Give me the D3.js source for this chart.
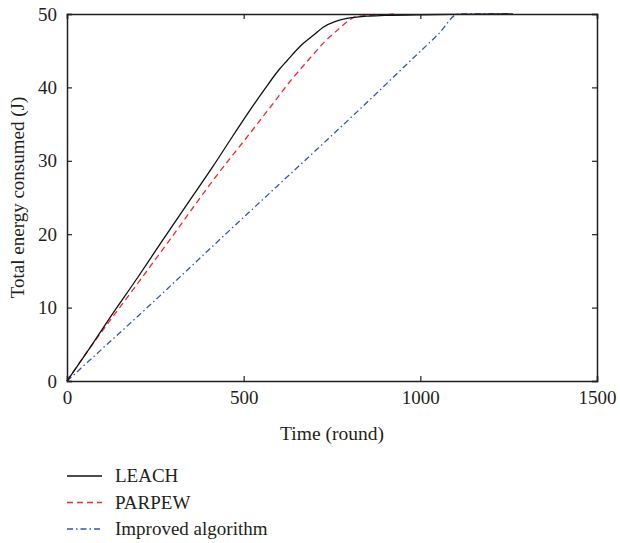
<!DOCTYPE html>
<html>
<head>
<meta charset="utf-8">
<script src="https://cdn.jsdelivr.net/npm/d3@7"></script>
<style>
  html, body { margin: 0; padding: 0; background: #fff; }
  svg { display: block; }
  text { font-family: "Liberation Serif", "DejaVu Serif", serif; fill: #231f20; }
</style>
</head>
<body>
<svg id="chart" width="620" height="543"></svg>
<script>
// ---- data ----
const xTicks = [0, 500, 1000, 1500];
const yTicks = [0, 10, 20, 30, 40, 50];
const seriesNames = ["LEACH", "PARPEW", "Improved algorithm"];

const leachRounds = [0, 70, 124, 200, 268, 343, 414, 460, 518, 560, 600, 622, 660, 700, 725, 760, 792, 848, 900, 1000, 1100, 1262];
const leachEnergy = [0, 4.9, 8.8, 14.1, 19.0, 24.3, 29.3, 32.7, 36.9, 39.8, 42.4, 43.6, 45.6, 47.2, 48.2, 49.0, 49.4, 49.7, 49.8, 49.9, 49.95, 50];

const parpewRounds = [0, 60, 135, 200, 292, 376, 419, 504, 580, 631, 688, 725, 770, 800, 815, 850, 900, 925];
const parpewEnergy = [0, 4.2, 9.1, 13.3, 19.3, 24.9, 27.7, 32.9, 37.6, 40.8, 44, 46, 48, 49.2, 49.6, 49.8, 49.9, 50];

const improvedRounds = [0, 100, 227, 433, 614, 735, 850, 980, 1050, 1108, 1250];
const improvedEnergy = [0, 4.4, 10, 19.3, 27.4, 32.8, 38.0, 44.0, 47.2, 50, 50];

// ---- layout ----
const svg = d3.select("#chart");
const L = 67, R = 597, T = 14, B = 381;
const x = d3.scaleLinear().domain([0, 1500]).range([L, R]);
const y = d3.scaleLinear().domain([0, 50]).range([B, T]);

const styles = [
  { color: "#111111", dash: null },
  { color: "#ee2a2f", dash: "6,4" },
  { color: "#3557b0", dash: "6,3,1.5,3" }
];

const series = [
  leachRounds.map((r, i) => [r, leachEnergy[i]]),
  parpewRounds.map((r, i) => [r, parpewEnergy[i]]),
  improvedRounds.map((r, i) => [r, improvedEnergy[i]])
];

const line = d3.line().x(d => x(d[0])).y(d => y(d[1])).curve(d3.curveMonotoneX);

// draw series: improved first, then PARPEW, then LEACH on top
[2, 1, 0].forEach(k => {
  svg.append("path")
    .datum(series[k])
    .attr("fill", "none")
    .attr("stroke", styles[k].color)
    .attr("stroke-width", 1.3)
    .attr("stroke-dasharray", styles[k].dash)
    .attr("d", line);
});

// axes (ticks inward)
const tl = 5;
const axB = svg.append("g").attr("transform", `translate(0,${B})`)
  .call(d3.axisBottom(x).tickValues(xTicks).tickSize(-tl).tickPadding(10).tickFormat(d3.format("d")));
const axT = svg.append("g").attr("transform", `translate(0,${T})`)
  .call(d3.axisTop(x).tickValues(xTicks).tickSize(-tl).tickFormat(""));
const axL = svg.append("g").attr("transform", `translate(${L},0)`)
  .call(d3.axisLeft(y).tickValues(yTicks).tickSize(-tl).tickPadding(10).tickFormat(d3.format("d")));
const axR = svg.append("g").attr("transform", `translate(${R},0)`)
  .call(d3.axisRight(y).tickValues(yTicks).tickSize(-tl).tickFormat(""));

[axB, axT, axL, axR].forEach(g => {
  g.selectAll(".domain").attr("stroke", "#231f20").attr("stroke-width", 1.5);
  g.selectAll(".tick line").attr("stroke", "#231f20").attr("stroke-width", 1.2);
  g.selectAll("text").attr("font-family", "Liberation Serif, DejaVu Serif, serif")
    .attr("font-size", 19).attr("fill", "#231f20");
});

// axis titles
svg.append("text")
  .attr("x", (L + R) / 2).attr("y", 440)
  .attr("text-anchor", "middle").attr("font-size", 19.5)
  .text("Time (round)");

svg.append("text")
  .attr("transform", `translate(24,${(T + B) / 2}) rotate(-90)`)
  .attr("text-anchor", "middle").attr("font-size", 19)
  .text("Total energy consumed (J)");

// legend
const legY = [476, 502.5, 529];
seriesNames.forEach((name, i) => {
  svg.append("line")
    .attr("x1", 67).attr("x2", 102)
    .attr("y1", legY[i]).attr("y2", legY[i])
    .attr("stroke", styles[i].color).attr("stroke-width", 1.3)
    .attr("stroke-dasharray", styles[i].dash);
  svg.append("text")
    .attr("x", 115).attr("y", legY[i]).attr("dy", "0.34em")
    .attr("font-size", 19)
    .text(name);
});
</script>
</body>
</html>
